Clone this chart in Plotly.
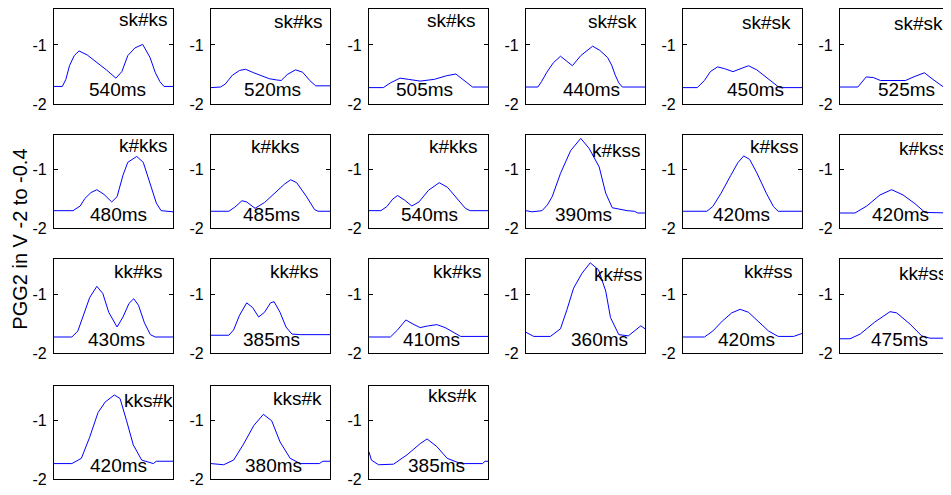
import plotly.graph_objects as go

# ---------------- data ----------------
labels = ["sk#ks", "sk#ks", "sk#ks", "sk#sk", "sk#sk", "sk#sk",
          "k#kks", "k#kks", "k#kks", "k#kss", "k#kss", "k#kss",
          "kk#ks", "kk#ks", "kk#ks", "kk#ss", "kk#ss", "kk#ss",
          "kks#k", "kks#k", "kks#k"]
durations_ms = [540, 520, 505, 440, 450, 525,
                480, 485, 540, 390, 420, 420,
                430, 385, 410, 360, 420, 475,
                420, 380, 385]

# each curve: time (% of the window) and PGG2 value (V)
t01 = [0, 7, 10, 13, 17, 21, 28, 36, 44, 52, 57, 62, 68, 74.5, 80.7, 85, 89, 92.4, 100]
v01 = [-1.70, -1.70, -1.58, -1.35, -1.18, -1.10, -1.17, -1.29, -1.42, -1.56, -1.45, -1.18, -1.05, -0.99, -1.21, -1.46, -1.62, -1.70, -1.70]
t02 = [0, 8, 12, 18, 24, 29, 36, 42, 49, 55, 59, 64, 71, 77, 83, 88, 100]
v02 = [-1.72, -1.71, -1.66, -1.51, -1.43, -1.41, -1.47, -1.52, -1.57, -1.59, -1.60, -1.50, -1.42, -1.46, -1.60, -1.69, -1.69]
t03 = [0, 12, 18, 26, 33, 43, 55, 65, 73, 80, 87, 100]
v03 = [-1.72, -1.72, -1.64, -1.56, -1.58, -1.61, -1.58, -1.52, -1.49, -1.60, -1.71, -1.71]
t04 = [0, 10, 13, 17.5, 23, 29, 34, 39, 46, 51, 56, 62, 68.5, 72, 75, 78, 81, 100]
v04 = [-1.71, -1.71, -1.62, -1.46, -1.30, -1.19, -1.27, -1.35, -1.18, -1.10, -1.02, -1.09, -1.21, -1.34, -1.51, -1.64, -1.71, -1.71]
t05 = [0, 12, 18, 23, 29, 35, 42, 48, 55, 62, 70, 78, 81, 100]
v05 = [-1.72, -1.72, -1.60, -1.45, -1.37, -1.40, -1.45, -1.40, -1.35, -1.42, -1.55, -1.68, -1.72, -1.72]
t06 = [0, 15, 22, 28, 34, 45, 55, 63, 71, 78, 87, 93.3]
v06 = [-1.71, -1.71, -1.54, -1.55, -1.60, -1.60, -1.60, -1.53, -1.47, -1.58, -1.71, -1.71]

t07 = [0, 16, 22, 26, 31, 36, 42, 48.5, 53, 58, 62, 69.5, 75, 80.7, 86, 90, 100]
v07 = [-1.70, -1.70, -1.62, -1.49, -1.39, -1.34, -1.42, -1.55, -1.46, -1.09, -0.87, -0.77, -0.87, -1.23, -1.57, -1.70, -1.72]
t08 = [0, 15, 20, 26, 30, 37, 45, 55, 62, 67, 72, 80, 87, 90, 100]
v08 = [-1.71, -1.71, -1.64, -1.53, -1.55, -1.66, -1.56, -1.38, -1.24, -1.17, -1.22, -1.45, -1.68, -1.71, -1.71]
t09 = [0, 10, 15, 20, 24, 30, 36, 42, 50, 59, 66, 74, 81, 85, 100]
v09 = [-1.70, -1.70, -1.63, -1.50, -1.44, -1.52, -1.62, -1.55, -1.35, -1.22, -1.30, -1.50, -1.66, -1.70, -1.70]
t10 = [0, 5, 13.5, 18, 22, 29, 37.5, 46, 53, 61.5, 67, 72.5, 85, 91, 94, 100]
v10 = [-1.70, -1.72, -1.70, -1.60, -1.46, -1.06, -0.67, -0.46, -0.63, -0.95, -1.40, -1.65, -1.70, -1.71, -1.74, -1.74]
t11 = [0, 20, 25, 32, 40, 46, 51, 56, 62, 70, 76, 80, 100]
v11 = [-1.71, -1.71, -1.63, -1.40, -1.10, -0.88, -0.76, -0.82, -1.05, -1.40, -1.63, -1.71, -1.71]
t12 = [0, 12.6, 22.5, 33.6, 43.4, 53, 63, 71.4, 93.3]
v12 = [-1.74, -1.74, -1.62, -1.43, -1.34, -1.43, -1.58, -1.73, -1.74]

t13 = [0, 15, 20, 25, 30, 36, 41, 46, 53, 58, 63, 67, 71, 76, 81, 85, 100]
v13 = [-1.72, -1.72, -1.62, -1.35, -1.05, -0.86, -0.98, -1.30, -1.55, -1.38, -1.15, -1.07, -1.18, -1.48, -1.68, -1.72, -1.72]
t14 = [0, 15, 19, 24, 30, 35, 40, 45, 50, 53, 58, 63, 68, 75, 100]
v14 = [-1.69, -1.69, -1.60, -1.35, -1.14, -1.22, -1.38, -1.30, -1.14, -1.12, -1.30, -1.55, -1.67, -1.68, -1.68]
t15 = [0, 18, 24, 31, 37, 43, 50, 57, 64, 72, 77, 100]
v15 = [-1.72, -1.72, -1.60, -1.43, -1.50, -1.56, -1.53, -1.51, -1.56, -1.66, -1.71, -1.71]
t16 = [0, 6.5, 20.5, 29, 34.5, 40, 47, 54, 61, 67, 71, 78, 86, 96.5, 100]
v16 = [-1.64, -1.71, -1.71, -1.58, -1.25, -0.89, -0.64, -0.46, -0.58, -0.94, -1.39, -1.68, -1.70, -1.53, -1.58]
t17 = [0, 18, 25, 33, 41, 48, 55, 63, 72, 80, 93, 100]
v17 = [-1.72, -1.72, -1.62, -1.45, -1.31, -1.25, -1.30, -1.45, -1.62, -1.71, -1.71, -1.66]
t18 = [0, 8.4, 17, 29, 42, 47.6, 58.8, 68.6, 75.6, 86.8, 93.3]
v18 = [-1.75, -1.75, -1.67, -1.47, -1.29, -1.31, -1.50, -1.70, -1.74, -1.74, -1.63]

t19 = [0, 15, 23, 30, 37, 43, 50.7, 55.5, 61, 66.6, 73.7, 83.5, 86, 100]
v19 = [-1.73, -1.73, -1.64, -1.28, -0.86, -0.68, -0.56, -0.62, -1.00, -1.41, -1.67, -1.73, -1.69, -1.69]
t20 = [0, 10.6, 19, 27, 36, 44, 51, 58, 66.5, 75, 91, 94, 100]
v20 = [-1.73, -1.75, -1.67, -1.41, -1.08, -0.89, -1.00, -1.36, -1.64, -1.73, -1.73, -1.69, -1.69]
t21 = [0, 2, 8, 20.6, 32, 43, 48.8, 57, 65.7, 77, 95.5, 97.5, 100]
v21 = [-1.53, -1.67, -1.75, -1.74, -1.58, -1.39, -1.31, -1.44, -1.64, -1.73, -1.73, -1.69, -1.69]

times = [t01, t02, t03, t04, t05, t06, t07, t08, t09, t10, t11, t12,
         t13, t14, t15, t16, t17, t18, t19, t20, t21]
values = [v01, v02, v03, v04, v05, v06, v07, v08, v09, v10, v11, v12,
          v13, v14, v15, v16, v17, v18, v19, v20, v21]

y_ticks = [-2, -1]
y_range = [-2, -0.4]

# ---------------- layout (positions / styles) ----------------
PAGE_MARGIN = 8                      # default body margin of the html page
W, H = 951 - PAGE_MARGIN, 495 - PAGE_MARGIN
col_left = [p - PAGE_MARGIN for p in [54, 211, 369, 526, 683, 840]]
box_w = 119
row_top = [p - PAGE_MARGIN for p in [9.5, 137.3, 264, 392.7]]
row_bot = [p - PAGE_MARGIN for p in [106, 232.3, 360, 488.3]]

name_x = [53, 51.4, 46.7, 50, 48, 43.6, 52.6, 31.7, 49, 54, 54.6, 47.6,
          48.7, 47.5, 52.5, 55.7, 49.6, 47.6, 57, 50, 48]
name_y = [-0.575, -0.605, -0.585, -0.60, -0.617, -0.633, -0.59, -0.60, -0.60, -0.667, -0.60, -0.625,
          -0.60, -0.60, -0.60, -0.667, -0.60, -0.65, -0.65, -0.613, -0.577]
dur_x = [53, 52, 46.5, 55, 61, 56, 54, 51, 51, 48.5, 49, 51,
         52.5, 51, 52.5, 61.7, 53, 50.4, 53.8, 52.5, 57]
dur_y = -1.76

FONT = "Liberation Sans, Arial, Helvetica, sans-serif"

fig = go.Figure()
layout = dict(
    width=W, height=H, margin=dict(l=0, r=0, t=0, b=0),
    paper_bgcolor="white", plot_bgcolor="white", showlegend=False,
    font=dict(family=FONT, color="black"),
)
annotations = []

for i in range(len(times)):
    r, c = divmod(i, 6)
    n = i + 1
    xa = "x" if n == 1 else f"x{n}"
    ya = "y" if n == 1 else f"y{n}"
    xk = "xaxis" if n == 1 else f"xaxis{n}"
    yk = "yaxis" if n == 1 else f"yaxis{n}"
    x0 = col_left[c] / W
    x1 = (col_left[c] + box_w) / W
    xr = 100.0
    last = False
    if x1 > 1:
        xr = 100.0 * (W - col_left[c]) / box_w
        x1 = 1.0
        last = True
    layout[xk] = dict(domain=[x0, x1], range=[0, xr], anchor=ya,
                      showline=True, linecolor="black", linewidth=1.2, mirror=True,
                      showticklabels=False, ticks="", showgrid=False, zeroline=False,
                      fixedrange=True)
    layout[yk] = dict(domain=[1 - row_bot[r] / H, 1 - row_top[r] / H], range=y_range,
                      anchor=xa, tickvals=y_ticks, ticktext=[str(v) for v in y_ticks],
                      ticks="inside", ticklen=4, tickcolor="black", tickwidth=1,
                      showline=True, linecolor="black", linewidth=1.2,
                      mirror=False if last else "ticks",
                      showgrid=False, zeroline=False, ticklabelstandoff=3,
                      tickfont=dict(family=FONT, size=16, color="black"),
                      fixedrange=True)
    fig.add_trace(go.Scatter(x=times[i], y=values[i], mode="lines",
                             line=dict(color="#0000ff", width=1),
                             xaxis=xa, yaxis=ya, hoverinfo="skip"))
    annotations.append(dict(x=name_x[i], y=name_y[i], xref=xa, yref=ya,
                            text=labels[i], showarrow=False, xanchor="left", yanchor="middle",
                            font=dict(family=FONT, size=19, color="black")))
    annotations.append(dict(x=dur_x[i], y=dur_y, xref=xa, yref=ya,
                            text=f"{durations_ms[i]}ms", showarrow=False,
                            xanchor="center", yanchor="middle",
                            font=dict(family=FONT, size=19, color="black")))

annotations.append(dict(x=(20 - PAGE_MARGIN) / W, y=1 - (244 - PAGE_MARGIN) / H,
                        xref="paper", yref="paper",
                        text="PGG2 in V -2 to -0.4", showarrow=False, textangle=-90,
                        xanchor="center", yanchor="middle",
                        font=dict(family=FONT, size=20, color="black")))
layout["annotations"] = annotations
fig.update_layout(**layout)
fig.write_html("out.html")
